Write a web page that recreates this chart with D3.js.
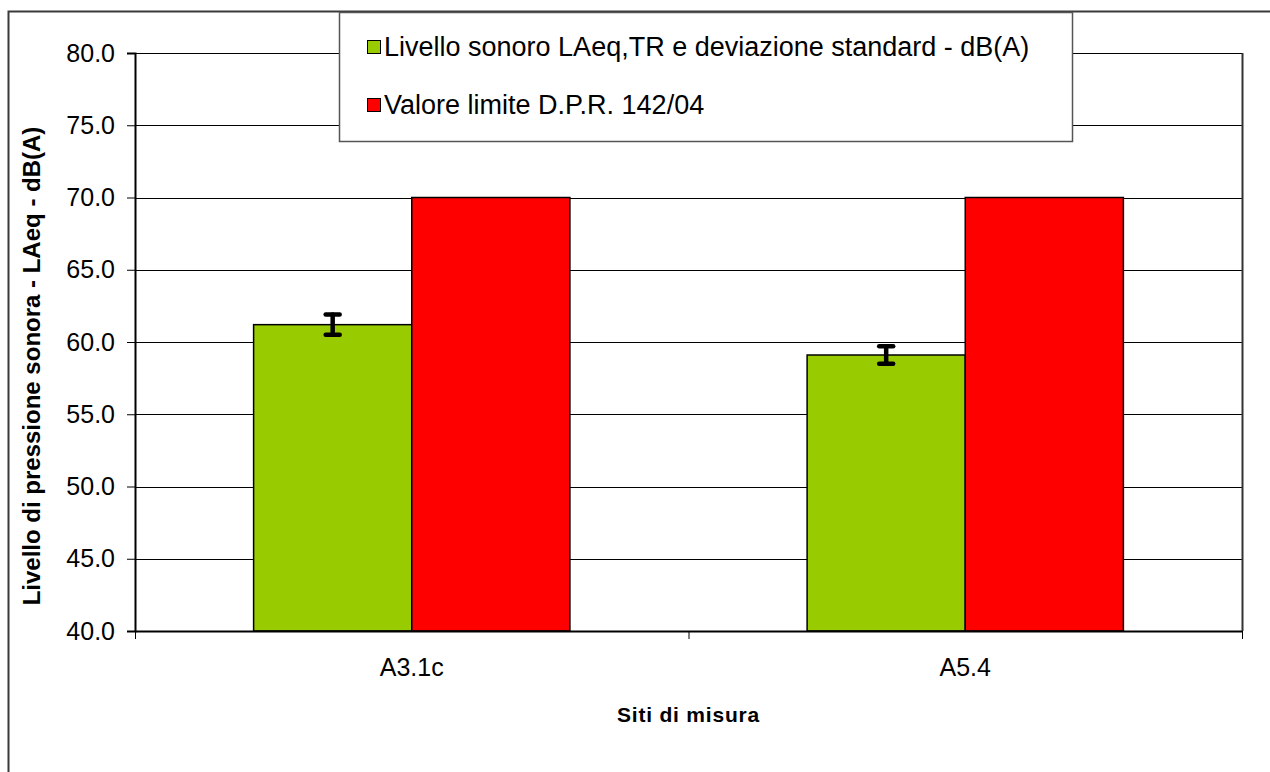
<!DOCTYPE html>
<html>
<head>
<meta charset="utf-8">
<script src="https://cdn.jsdelivr.net/npm/d3@7"></script>
<style>
  body { margin: 0; background: #fff; }
  svg { display: block; font-family: "Liberation Sans", Arial, sans-serif; }
</style>
</head>
<body>
<svg width="1270" height="772"></svg>
<script>
// data
var sites = ["A3.1c", "A5.4"];
var seriesNames = ["Livello sonoro LAeq,TR e deviazione standard - dB(A)", "Valore limite D.P.R. 142/04"];
var measured = [61.2, 59.1];
var stdDev = [0.7, 0.6];
var limitValues = [70, 70];
var yTicks = [40, 45, 50, 55, 60, 65, 70, 75, 80];
var colors = ["#99CC00", "#FF0000"];

var svg = d3.select("svg");

var plotLeft = 135, plotTop = 53, plotRight = 1242, plotBottom = 631;

// outer chart border (only left and top edges fall inside the picture)
svg.append("path")
    .attr("d", "M8.5,772 L8.5,11.5 L1270,11.5")
    .attr("fill", "none")
    .attr("stroke", "#3a3a3a")
    .attr("stroke-width", 2);

var x = d3.scaleBand().domain(sites).range([plotLeft, plotRight]);
var xInner = d3.scaleBand().domain([0, 1]).range([0, x.bandwidth()]).paddingOuter(0.75);
var y = d3.scaleLinear().domain([40, 80]).range([plotBottom, plotTop]);

// gridlines
svg.append("g").selectAll("line")
    .data(yTicks.slice(1))
    .enter().append("line")
    .attr("x1", plotLeft).attr("x2", plotRight)
    .attr("y1", function (d) { return Math.round(y(d)) + 0.5; })
    .attr("y2", function (d) { return Math.round(y(d)) + 0.5; })
    .attr("stroke", "#000")
    .attr("stroke-width", 1);

// plot frame, right side
svg.append("line")
    .attr("x1", plotRight + 0.5).attr("x2", plotRight + 0.5)
    .attr("y1", plotTop).attr("y2", plotBottom)
    .attr("stroke", "#333").attr("stroke-width", 2);

// y axis
var yAxis = svg.append("g")
    .attr("transform", "translate(" + plotLeft + ",0)")
    .call(d3.axisLeft(y).tickValues(yTicks).tickFormat(d3.format(".1f")).tickSize(8).tickPadding(12));
yAxis.select(".domain").attr("stroke", "#000").attr("stroke-width", 2);
yAxis.selectAll("text").attr("font-size", 25).attr("fill", "#000")
    .attr("font-family", "Liberation Sans, Arial, sans-serif");

// bars
var data = [];
sites.forEach(function (s, i) {
    data.push({ site: s, k: 0, v: measured[i] });
    data.push({ site: s, k: 1, v: limitValues[i] });
});

svg.append("g").selectAll("rect")
    .data(data)
    .enter().append("rect")
    .attr("x", function (d) { return x(d.site) + xInner(d.k); })
    .attr("y", function (d) { return y(d.v); })
    .attr("width", xInner.bandwidth())
    .attr("height", function (d) { return y(40) - y(d.v); })
    .attr("fill", function (d) { return colors[d.k]; })
    .attr("stroke", "#000")
    .attr("stroke-width", 1.5);

// x axis
var xAxis = svg.append("g")
    .attr("transform", "translate(0," + plotBottom + ")")
    .call(d3.axisBottom(x).tickSize(0).tickPadding(27));
xAxis.select(".domain").attr("stroke", "#000").attr("stroke-width", 2);
xAxis.selectAll("text").attr("font-size", 25).attr("fill", "#000")
    .attr("font-family", "Liberation Sans, Arial, sans-serif");
// category separator ticks
var sepTicks = [plotLeft, x(sites[1]), plotRight];
svg.append("g").selectAll("line")
    .data(sepTicks)
    .enter().append("line")
    .attr("x1", function (d) { return d + 0.5; })
    .attr("x2", function (d) { return d + 0.5; })
    .attr("y1", plotBottom).attr("y2", plotBottom + 8)
    .attr("stroke", "#000");

// error bars
var err = svg.append("g")
    .attr("stroke", "#000")
    .attr("stroke-width", 4.5)
    .attr("stroke-linecap", "round");
sites.forEach(function (s, i) {
    var cx = x(s) + xInner(0) + xInner.bandwidth() / 2;
    var y1 = y(measured[i] + stdDev[i]), y2 = y(measured[i] - stdDev[i]);
    err.append("line").attr("x1", cx).attr("x2", cx).attr("y1", y1).attr("y2", y2);
    err.append("line").attr("x1", cx - 7).attr("x2", cx + 7).attr("y1", y1).attr("y2", y1);
    err.append("line").attr("x1", cx - 7).attr("x2", cx + 7).attr("y1", y2).attr("y2", y2);
});

// axis titles
svg.append("text")
    .attr("transform", "translate(40,366) rotate(-90)")
    .attr("text-anchor", "middle")
    .attr("font-size", 24)
    .attr("font-weight", "bold")
    .text("Livello di pressione sonora - LAeq - dB(A)");

svg.append("text")
    .attr("x", (plotLeft + plotRight) / 2)
    .attr("y", 722)
    .attr("text-anchor", "middle")
    .attr("font-size", 21)
    .attr("font-weight", "bold")
    .attr("letter-spacing", 0.8)
    .text("Siti di misura");

// legend
var legend = svg.append("g");
legend.append("rect")
    .attr("x", 339.5).attr("y", 12.5)
    .attr("width", 733).attr("height", 129)
    .attr("fill", "#fff")
    .attr("stroke", "#555")
    .attr("stroke-width", 1.5);

var items = legend.selectAll("g.item")
    .data(seriesNames)
    .enter().append("g")
    .attr("class", "item")
    .attr("transform", function (d, i) { return "translate(367," + (46 + i * 58) + ")"; });
items.append("rect")
    .attr("x", 0.5).attr("y", -5.5)
    .attr("width", 13).attr("height", 13)
    .attr("fill", function (d, i) { return colors[i]; })
    .attr("stroke", "#000");
items.append("text")
    .attr("x", 17)
    .attr("y", 10)
    .attr("font-size", 27)
    .text(function (d) { return d; });
</script>
</body>
</html>
